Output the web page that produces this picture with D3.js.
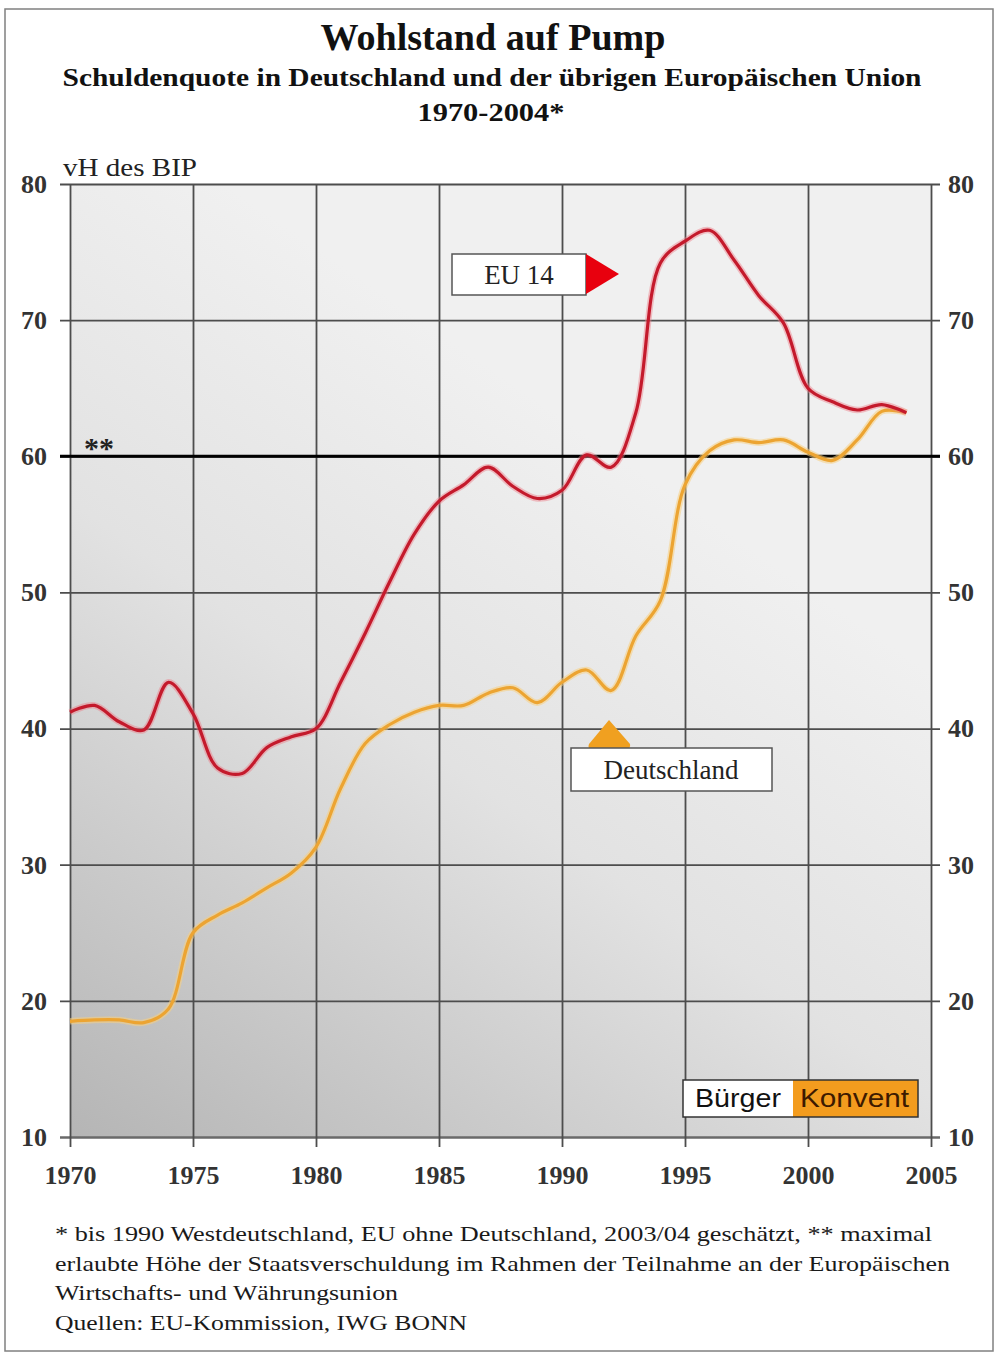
<!DOCTYPE html>
<html><head><meta charset="utf-8">
<script src="https://cdn.jsdelivr.net/npm/d3@7"></script>
<style>html,body{margin:0;padding:0;background:#fff;} svg{display:block;}</style>
</head><body>
<svg id="c" width="999" height="1354"></svg>
<script>
// ---------- data ----------
const years = [1970,1971,1972,1973,1974,1975,1976,1977,1978,1979,1980,1981,1982,1983,1984,1985,1986,1987,1988,1989,1990,1991,1992,1993,1994,1995,1996,1997,1998,1999,2000,2001,2002,2003,2004];
const eu14 = [41.2,41.7,40.5,39.9,43.4,41.1,37.1,36.7,38.6,39.4,40.0,43.4,47.0,50.8,54.3,56.7,57.9,59.2,57.8,56.9,57.5,60.1,59.2,63.2,74.2,75.8,76.6,74.4,71.8,69.8,65.0,64.0,63.4,63.8,63.2];
const deutschland = [18.5,18.6,18.6,18.4,19.4,25.0,26.3,27.2,28.3,29.4,31.3,35.6,38.9,40.3,41.2,41.7,41.7,42.6,43.0,41.9,43.4,44.3,42.8,46.8,49.4,57.9,60.4,61.2,61.0,61.2,60.3,59.7,61.2,63.3,63.2];
const yTicks = [10,20,30,40,50,60,70,80];
const xTicks = [1970,1975,1980,1985,1990,1995,2000,2005];
const limitValue = 60;
const seriesNames = ["EU 14","Deutschland"];
const titleLines = ["Wohlstand auf Pump","Schuldenquote in Deutschland und der übrigen Europäischen Union","1970-2004*"];
const yAxisTitle = "vH des BIP";
const footnotes = [
  "* bis 1990 Westdeutschland, EU ohne Deutschland, 2003/04 geschätzt,  ** maximal",
  "erlaubte Höhe der Staatsverschuldung im Rahmen der Teilnahme an der Europäischen",
  "Wirtschafts- und Währungsunion",
  "Quellen: EU-Kommission, IWG BONN"
];

// ---------- setup ----------
const svg = d3.select('#c');
const serif = '"Liberation Serif","Times New Roman",serif';
const sans = '"Liberation Sans",Arial,sans-serif';
const plot = {left:70,right:931,top:184,bottom:1137};
const x = d3.scaleLinear().domain([1970,2005]).range([plot.left,plot.right]);
const y = d3.scaleLinear().domain([10,80]).range([plot.bottom,plot.top]);

// frame
svg.append('rect').attr('x',5).attr('y',9).attr('width',988).attr('height',1342)
  .attr('fill','#fff').attr('stroke','#808080').attr('stroke-width',1.5);

// titles
const tAttrs = [
  {x:493,y:50,size:37,len:345},
  {x:492,y:86,size:26,len:859},
  {x:491,y:121,size:26,len:147}
];
titleLines.forEach((t,i)=>{
  svg.append('text').attr('x',tAttrs[i].x).attr('y',tAttrs[i].y)
    .attr('text-anchor','middle').attr('font-family',serif).attr('font-weight','bold')
    .attr('font-size',tAttrs[i].size).attr('fill','#111')
    .attr('textLength',tAttrs[i].len).attr('lengthAdjust','spacingAndGlyphs').text(t);
});
svg.append('text').attr('x',63).attr('y',176).attr('font-family',serif).attr('font-size',26)
  .attr('fill','#222').attr('textLength',134).attr('lengthAdjust','spacingAndGlyphs').text(yAxisTitle);

// background gradient
const defs = svg.append('defs');
const grad = defs.append('linearGradient').attr('id','bg')
  .attr('x1',0).attr('y1',1).attr('x2',0.5).attr('y2',0.2);
grad.append('stop').attr('offset',0).attr('stop-color','#b5b5b5');
grad.append('stop').attr('offset',0.6).attr('stop-color','#e2e2e2');
grad.append('stop').attr('offset',1).attr('stop-color','#f0f0f0');
svg.append('rect').attr('x',plot.left).attr('y',plot.top)
  .attr('width',plot.right-plot.left).attr('height',plot.bottom-plot.top).attr('fill','url(#bg)');

// axes / grid
const gridColor = '#4d4d4d';
const yAxis = svg.append('g').attr('transform',`translate(60,0)`)
  .call(d3.axisLeft(y).tickValues(yTicks).tickSize(-880).tickPadding(13).tickFormat(d3.format('d')));
const yAxisR = svg.append('g').attr('transform',`translate(940,0)`)
  .call(d3.axisRight(y).tickValues(yTicks).tickSize(0).tickPadding(8).tickFormat(d3.format('d')));
const xAxis = svg.append('g').attr('transform',`translate(0,1147)`)
  .call(d3.axisBottom(x).tickValues(xTicks).tickSize(-(1147-plot.top)).tickPadding(19).tickFormat(d3.format('d')));
[yAxis,yAxisR,xAxis].forEach(a=>{
  a.select('.domain').remove();
  a.selectAll('line').attr('stroke',gridColor).attr('stroke-width',1.8);
  a.selectAll('text').attr('font-family',serif).attr('font-size',26).attr('font-weight','bold').attr('fill','#333');
});
yAxis.selectAll('.tick').filter(d=>d===10).select('line').attr('stroke','#6a6a6a').attr('stroke-width',2.5);

// 60% limit line
svg.append('line').attr('x1',60).attr('x2',940).attr('y1',y(limitValue)).attr('y2',y(limitValue))
  .attr('stroke','#000').attr('stroke-width',3);
svg.append('text').attr('x',84).attr('y',y(limitValue)+2).attr('font-family',serif)
  .attr('font-weight','bold').attr('font-size',30).attr('fill','#222').text('**');

// lines
const line = d3.line().x(d=>x(d[0])).y(d=>y(d[1])).curve(d3.curveCatmullRom.alpha(0.5));
const deData = years.map((yr,i)=>[yr,deutschland[i]]);
const euData = years.map((yr,i)=>[yr,eu14[i]]);
svg.append('path').datum(deData).attr('d',line).attr('fill','none')
  .attr('stroke','#f7cf80').attr('stroke-width',6.5).attr('stroke-opacity',0.55);
svg.append('path').datum(deData).attr('d',line).attr('fill','none')
  .attr('stroke','#eca432').attr('stroke-width',3.2);
svg.append('path').datum(euData).attr('d',line).attr('fill','none')
  .attr('stroke','#ee7c88').attr('stroke-width',6.5).attr('stroke-opacity',0.45);
svg.append('path').datum(euData).attr('d',line).attr('fill','none')
  .attr('stroke','#c41a2c').attr('stroke-width',3.2);

// EU 14 label
svg.append('rect').attr('x',452).attr('y',254).attr('width',134).attr('height',41)
  .attr('fill','#fff').attr('stroke','#555').attr('stroke-width',1.5);
svg.append('text').attr('x',519).attr('y',284).attr('text-anchor','middle')
  .attr('font-family',serif).attr('font-size',27).attr('fill','#222').text(seriesNames[0]);
svg.append('path').attr('d','M586,254 L619,274 L586,294 Z').attr('fill','#e8000e');

// Deutschland label
svg.append('path').attr('d','M609,720 L630,744 Q631,749 626,749 L592,749 Q587,749 589,744 Z').attr('fill','#f0a020');
svg.append('rect').attr('x',571).attr('y',748).attr('width',201).attr('height',43)
  .attr('fill','#fff').attr('stroke','#555').attr('stroke-width',1.5);
svg.append('text').attr('x',671).attr('y',779).attr('text-anchor','middle')
  .attr('font-family',serif).attr('font-size',27).attr('fill','#222').text(seriesNames[1]);

// Bürger Konvent logo
svg.append('rect').attr('x',683).attr('y',1080).attr('width',110).attr('height',37).attr('fill','#fff');
svg.append('rect').attr('x',793).attr('y',1080).attr('width',125).attr('height',37).attr('fill','#f39c1e');
svg.append('rect').attr('x',683).attr('y',1080).attr('width',235).attr('height',37)
  .attr('fill','none').attr('stroke','#333').attr('stroke-width',1.5);
svg.append('text').attr('x',695).attr('y',1107).attr('font-family',sans).attr('font-size',25)
  .attr('fill','#111').attr('textLength',86).attr('lengthAdjust','spacingAndGlyphs').text('Bürger');
svg.append('text').attr('x',800).attr('y',1107).attr('font-family',sans).attr('font-size',25)
  .attr('fill','#3d1a00').attr('textLength',109).attr('lengthAdjust','spacingAndGlyphs').text('Konvent');

// footnotes
const fnY = [1241,1271,1300,1330];
const fnLen = [877,895,343,412];
footnotes.forEach((t,i)=>{
  svg.append('text').attr('x',55).attr('y',fnY[i]).attr('font-family',serif).attr('font-size',21)
    .attr('fill','#1a1a1a').attr('textLength',fnLen[i]).attr('lengthAdjust','spacingAndGlyphs').text(t);
});
</script>
</body></html>
